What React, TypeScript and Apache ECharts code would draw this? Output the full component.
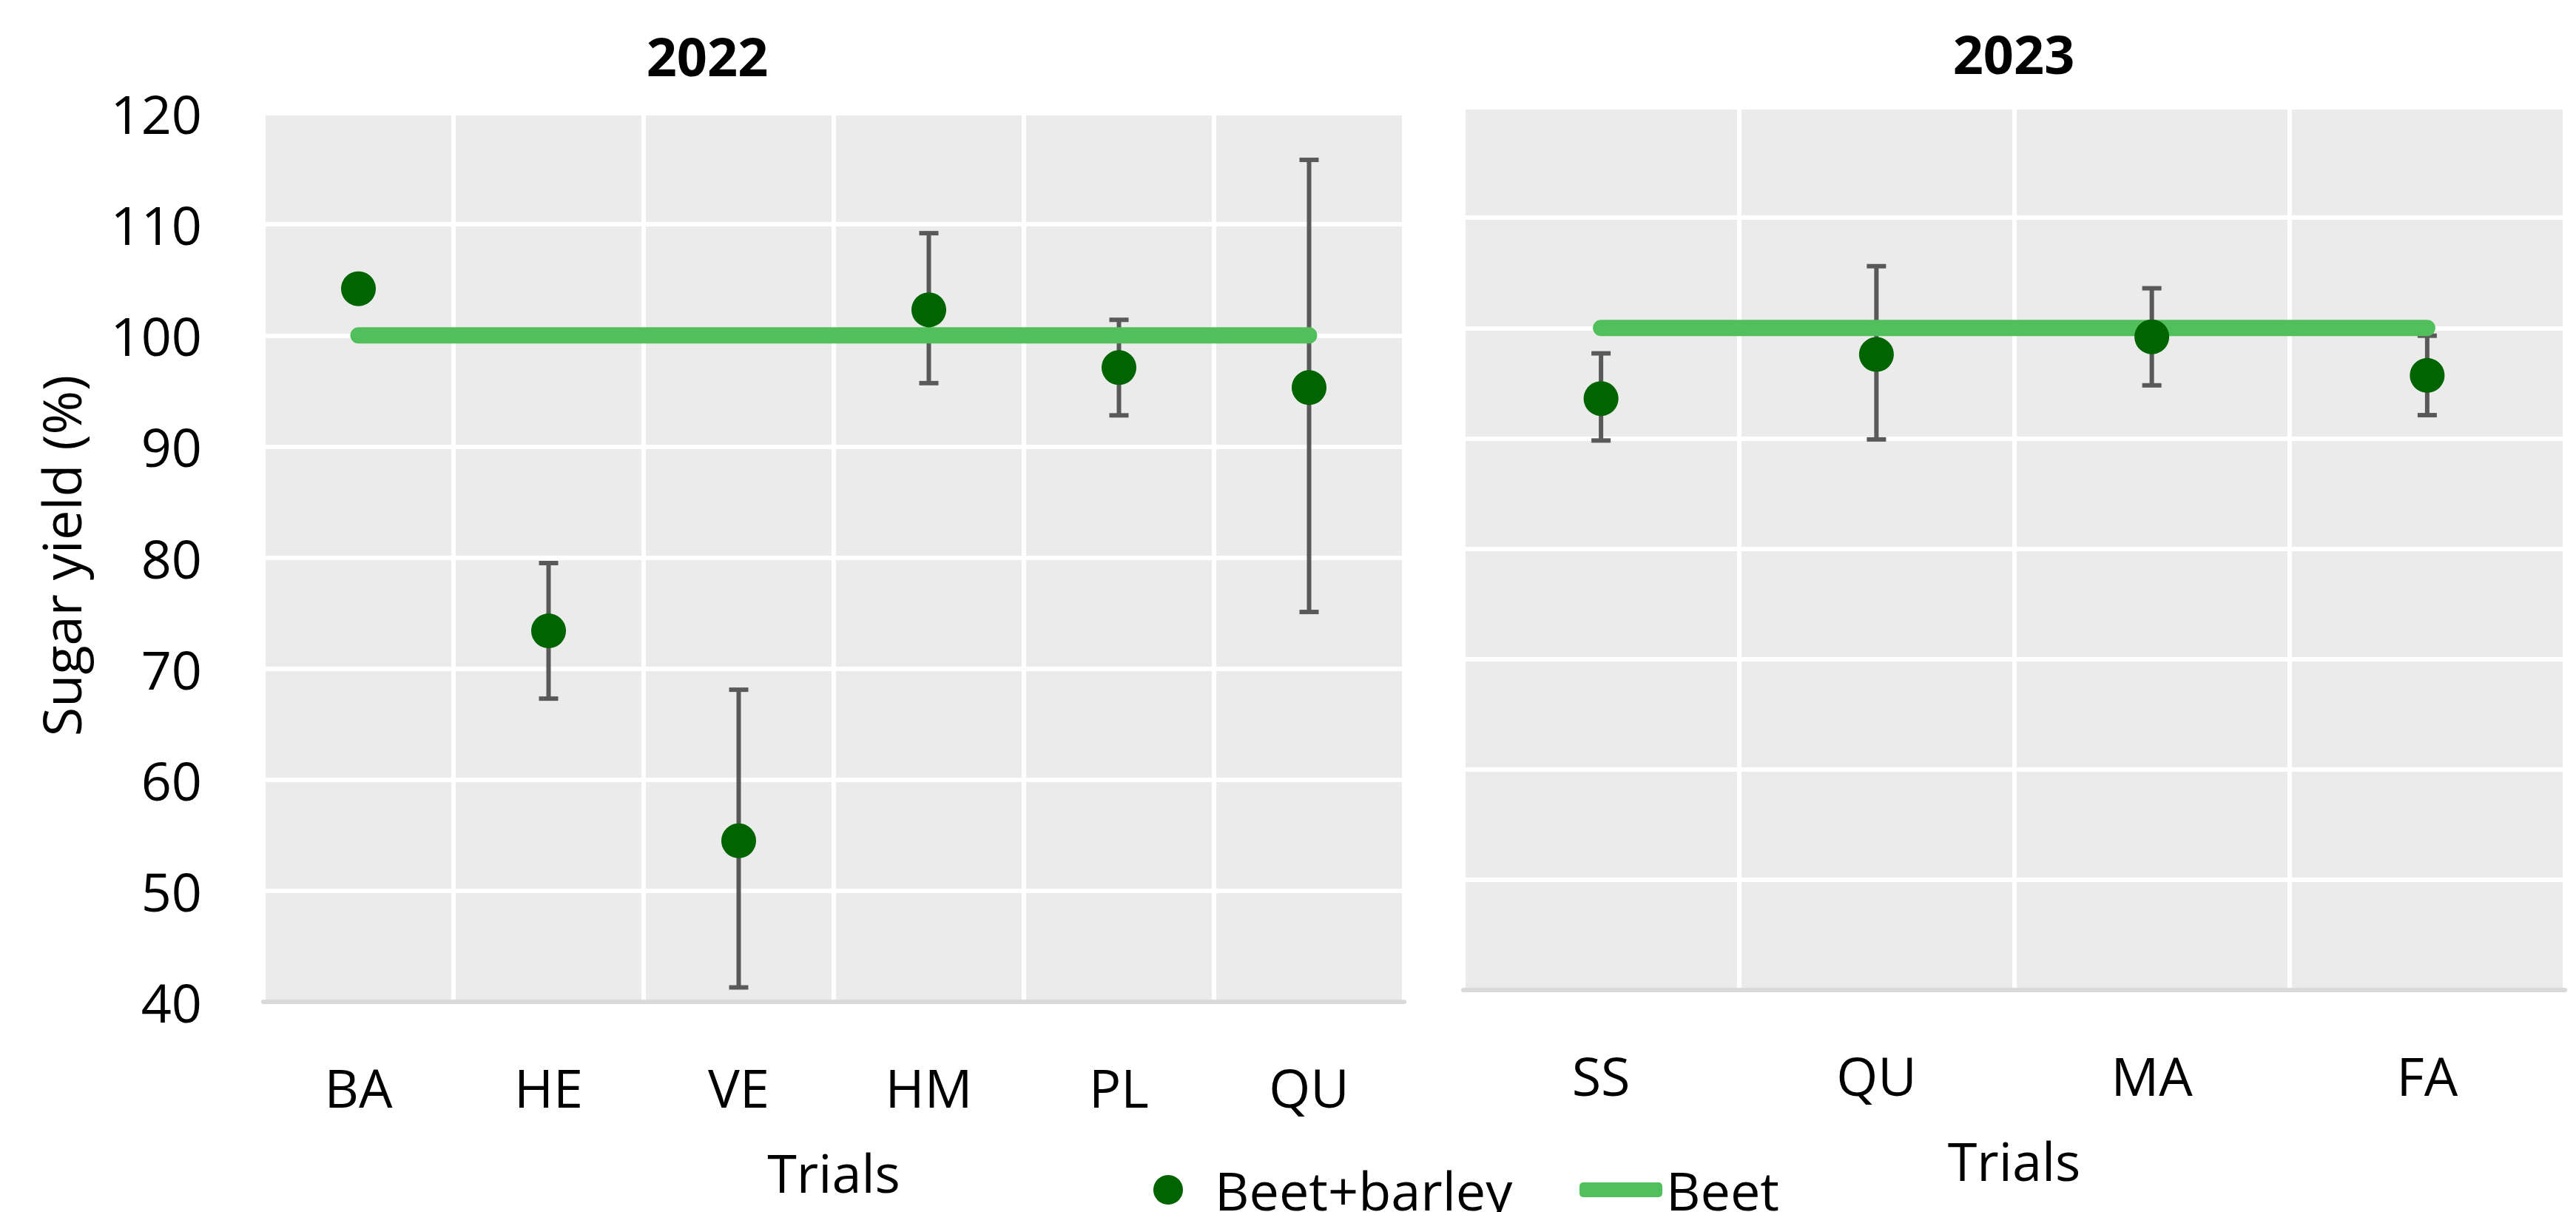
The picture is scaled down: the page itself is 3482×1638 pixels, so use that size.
import React, { useEffect, useRef } from "react";
import * as echarts from "echarts";

const cats2022 = ["BA", "HE", "VE", "HM", "PL", "QU"];
const beetBarley2022 = [104.2, 73.4, 54.5, 102.3, 97.1, 95.3];
const errLow2022: (number | null)[] = [null, 67.3, 41.3, 95.7, 92.8, 75.1];
const errHigh2022: (number | null)[] = [null, 79.5, 68.1, 109.2, 101.4, 115.8];
const beet2022 = [100, 100, 100, 100, 100, 100];

const cats2023 = ["SS", "QU", "MA", "FA"];
const beetBarley2023 = [93.6, 97.6, 99.2, 95.7];
const errLow2023: (number | null)[] = [89.8, 89.9, 94.8, 92.1];
const errHigh2023: (number | null)[] = [97.7, 105.6, 103.6, 99.3];
const beet2023 = [100, 100, 100, 100];

const yMin = 40;
const yMax = 120;
const yStep = 10;

const FONT = "'Open Sans', 'Noto Sans', sans-serif";
const DOT = "#006400";
const LINE = "#50BF5C";
const ERR = "#595959";

function errData(low: (number | null)[], high: (number | null)[]) {
  const out: number[][] = [];
  low.forEach((l, i) => {
    const h = high[i];
    if (l != null && h != null) out.push([i, l, h]);
  });
  return out;
}

function renderErr(params: any, api: any) {
  const x = api.value(0);
  const pLo = api.coord([x, api.value(1)]);
  const pHi = api.coord([x, api.value(2)]);
  const hw = 13;
  const style = { stroke: ERR, lineWidth: 6 };
  return {
    type: "group",
    children: [
      { type: "line", shape: { x1: pLo[0], y1: pLo[1], x2: pHi[0], y2: pHi[1] }, style },
      { type: "line", shape: { x1: pLo[0] - hw, y1: pLo[1], x2: pLo[0] + hw, y2: pLo[1] }, style },
      { type: "line", shape: { x1: pHi[0] - hw, y1: pHi[1], x2: pHi[0] + hw, y2: pHi[1] }, style },
    ],
  };
}

function xAxisFor(gridIndex: number, data: string[]) {
  return {
    type: "category",
    gridIndex,
    data,
    boundaryGap: true,
    axisTick: { show: false },
    axisLine: { show: true, onZero: false, lineStyle: { color: "#D9D9D9", width: 6 } },
    axisLabel: { fontSize: 72, color: "#000", margin: 79, fontFamily: FONT },
    splitLine: { show: true, lineStyle: { color: "#FFFFFF", width: 6 } },
    name: "Trials",
    nameLocation: "middle",
    nameGap: 194,
    nameTextStyle: { fontSize: 72, color: "#000", fontFamily: FONT },
  };
}

function yAxisFor(gridIndex: number, showLabels: boolean) {
  return {
    type: "value",
    gridIndex,
    min: yMin,
    max: yMax,
    interval: yStep,
    axisLine: { show: false },
    axisTick: { show: false },
    axisLabel: { show: showLabels, fontSize: 72, color: "#000", margin: 83, fontFamily: FONT },
    splitLine: { show: true, lineStyle: { color: "#FFFFFF", width: 6 } },
  };
}

const titleStyle = {
  fontSize: 72,
  fontWeight: "bold",
  fontFamily: FONT,
  fill: "#000",
  align: "center",
  verticalAlign: "middle",
  textAlign: "center",
  textVerticalAlign: "middle",
};

export default function App() {
  const ref = useRef<HTMLDivElement>(null);
  useEffect(() => {
    if (!ref.current) return;
    const chart = echarts.init(ref.current, undefined, { renderer: "svg" });
    const option: any = {
      animation: false,
      backgroundColor: "#FFFFFF",
      textStyle: { fontFamily: FONT },
      grid: [
        { left: 356, top: 153, width: 1542, height: 1201, show: true, backgroundColor: "#EBEBEB", borderWidth: 0 },
        { left: 1978, top: 145, width: 1489, height: 1193, show: true, backgroundColor: "#EBEBEB", borderWidth: 0 },
      ],
      xAxis: [xAxisFor(0, cats2022), xAxisFor(1, cats2023)],
      yAxis: [yAxisFor(0, true), yAxisFor(1, false)],
      legend: [
        {
          data: [{ name: "Beet+barley", icon: "circle" }],
          left: 1559,
          top: 1572,
          itemWidth: 40,
          itemHeight: 40,
          padding: 0,
          selectedMode: false,
          textStyle: { fontSize: 72, color: "#000", fontFamily: FONT, padding: [0, 0, 0, 38] },
        },
        {
          data: [{ name: "Beet", icon: "roundRect" }],
          left: 2135,
          top: 1572,
          itemWidth: 112,
          itemHeight: 20,
          padding: 0,
          selectedMode: false,
          textStyle: { fontSize: 72, color: "#000", fontFamily: FONT },
        },
      ],
      graphic: [
        {
          type: "text",
          x: 956,
          y: 75,
          style: { text: "2022", ...titleStyle },
        },
        {
          type: "text",
          x: 2722,
          y: 72,
          style: { text: "2023", ...titleStyle },
        },
        {
          type: "text",
          x: 82,
          y: 751,
          rotation: Math.PI / 2,
          style: {
            text: "Sugar yield (%)",
            fontSize: 72,
            fontFamily: FONT,
            fill: "#000",
            align: "center",
            verticalAlign: "middle",
            textAlign: "center",
            textVerticalAlign: "middle",
          },
        },
      ],
      series: [
        {
          name: "err2022",
          type: "custom",
          xAxisIndex: 0,
          yAxisIndex: 0,
          z: 1,
          renderItem: renderErr,
          encode: { x: 0, y: [1, 2] },
          data: errData(errLow2022, errHigh2022),
        },
        {
          name: "err2023",
          type: "custom",
          xAxisIndex: 1,
          yAxisIndex: 1,
          z: 1,
          renderItem: renderErr,
          encode: { x: 0, y: [1, 2] },
          data: errData(errLow2023, errHigh2023),
        },
        {
          name: "Beet",
          type: "line",
          xAxisIndex: 0,
          yAxisIndex: 0,
          z: 2,
          data: beet2022,
          symbol: "none",
          color: LINE,
          itemStyle: { color: LINE },
          lineStyle: { color: LINE, width: 22, cap: "round" },
        },
        {
          name: "Beet",
          type: "line",
          xAxisIndex: 1,
          yAxisIndex: 1,
          z: 2,
          data: beet2023,
          symbol: "none",
          color: LINE,
          itemStyle: { color: LINE },
          lineStyle: { color: LINE, width: 22, cap: "round" },
        },
        {
          name: "Beet+barley",
          type: "scatter",
          xAxisIndex: 0,
          yAxisIndex: 0,
          z: 3,
          symbol: "circle",
          symbolSize: 47,
          color: DOT,
          itemStyle: { color: DOT, opacity: 1 },
          data: beetBarley2022,
        },
        {
          name: "Beet+barley",
          type: "scatter",
          xAxisIndex: 1,
          yAxisIndex: 1,
          z: 3,
          symbol: "circle",
          symbolSize: 47,
          color: DOT,
          itemStyle: { color: DOT, opacity: 1 },
          data: beetBarley2023,
        },
      ],
    };
    chart.setOption(option);
    return () => chart.dispose();
  }, []);
  return (
    <div
      ref={ref}
      style={{ position: "fixed", left: 0, top: 0, width: 3482, height: 1638, background: "#fff" }}
    />
  );
}
